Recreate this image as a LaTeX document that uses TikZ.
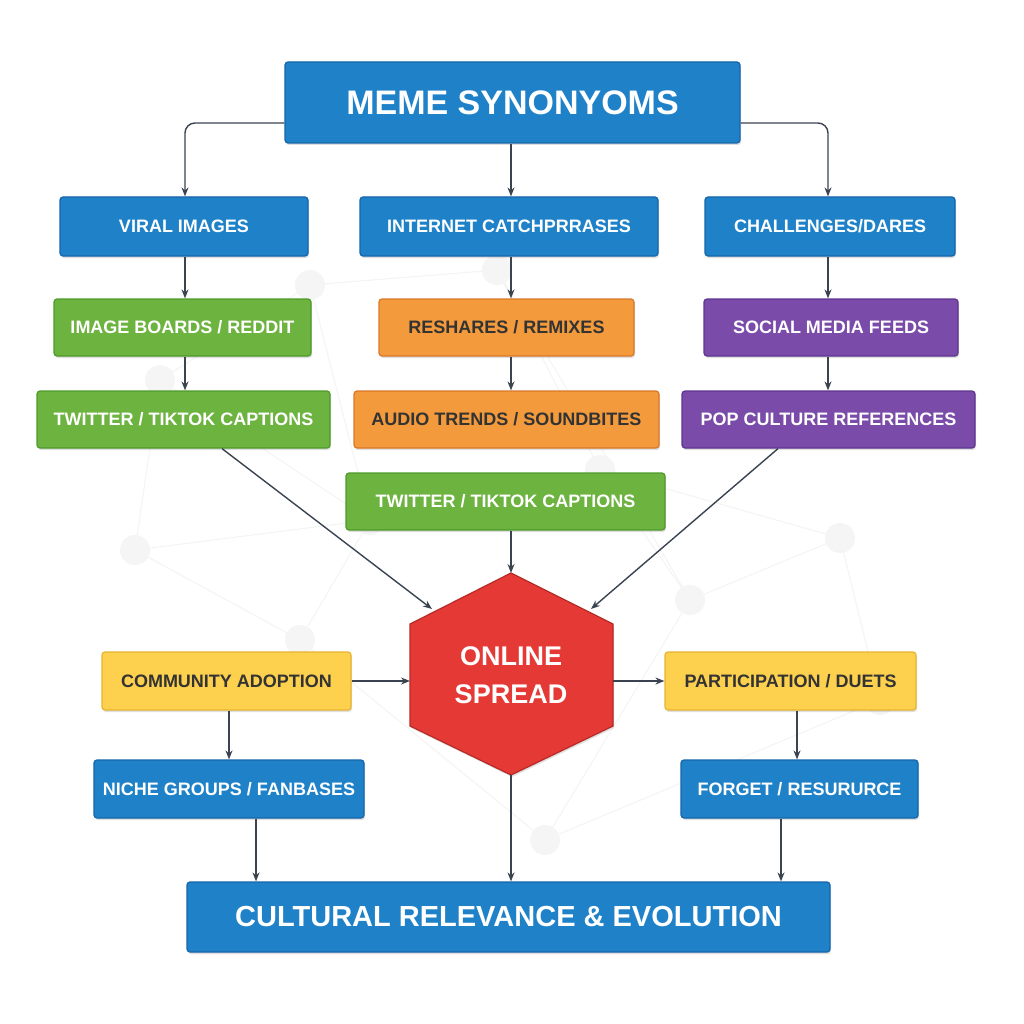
\documentclass[tikz,border=0pt]{standalone}
\usepackage{fontspec}
\setmainfont{Liberation Sans}
\usetikzlibrary{arrows.meta,shadows}
\definecolor{bl}{HTML}{1F82C9}\definecolor{blb}{HTML}{1565A8}
\definecolor{gr}{HTML}{6DB33F}\definecolor{grb}{HTML}{4E9A2A}
\definecolor{og}{HTML}{F39A3C}\definecolor{ogb}{HTML}{D9782A}
\definecolor{pu}{HTML}{7A4BA8}\definecolor{pub}{HTML}{5E3590}
\definecolor{ye}{HTML}{FDD04E}\definecolor{yeb}{HTML}{E6B42E}
\definecolor{rd}{HTML}{E53935}\definecolor{rdb}{HTML}{B72A26}
\definecolor{ar}{HTML}{3A4450}\definecolor{tx}{HTML}{333333}
\begin{document}
\begin{tikzpicture}[x=1pt,y=-1pt,
 bx/.style={rounded corners=3pt,line width=1.2pt,drop shadow={shadow xshift=1pt,shadow yshift=-2pt,opacity=0.25}},
 lbl/.style={font=\bfseries\fontsize{18}{20}\selectfont},
 conn/.style={-{Stealth[length=9pt,width=7pt]},draw=ar,line width=1.4pt,rounded corners=10pt},
 bgl/.style={draw=gray!9,line width=1pt}]
\useasboundingbox (0,0) rectangle (1024,1024);
\fill[white] (0,0) rectangle (1024,1024);
% faint network
\foreach \a/\b in {310/285,497/270,690/345,135/550,840/538,545/840,370/520,690/600,300/640,880/700,600/470,160/380}
  \coordinate (n\a) at (\a,\b);
\draw[bgl] (n310)--(n497)--(n690)--(n840)--(n880)--(n545)--(n300)--(n135)--(n160)--(n310)--(n370)--(n600)--(n690)
 (n135)--(n370)--(n300) (n600)--(n840) (n545)--(n690) (n497)--(n600) (n160)--(n370);
\foreach \a in {310,497,690,135,840,545,370,600,300,880,160}
  \fill[gray!8] (n\a) circle (15);
\def\B#1#2#3#4#5#6#7#8#9{\node[bx,draw=#7,fill=#6,text=#8,lbl,inner sep=0pt,minimum width={(#3)-(#2)},minimum height={(#5)-(#4)}] (#1) at ({((#2)+(#3))/2},{((#4)+(#5))/2}) {#9};}
\B{t}{285}{740}{62}{143}{bl}{blb}{white}{\fontsize{34}{36}\selectfont MEME SYNONYOMS}
\B{v}{60}{308}{197}{256}{bl}{blb}{white}{VIRAL IMAGES}
\B{i}{360}{658}{197}{256}{bl}{blb}{white}{INTERNET CATCHPRRASES}
\B{c}{705}{955}{197}{256}{bl}{blb}{white}{CHALLENGES/DARES}
\B{ib}{54}{311}{299}{356}{gr}{grb}{white}{IMAGE BOARDS / REDDIT}
\B{rr}{379}{634}{299}{356}{og}{ogb}{tx}{RESHARES / REMIXES}
\B{sm}{704}{958}{299}{356}{pu}{pub}{white}{SOCIAL MEDIA FEEDS}
\B{tw}{37}{330}{391}{448}{gr}{grb}{white}{TWITTER / TIKTOK CAPTIONS}
\B{au}{354}{659}{391}{448}{og}{ogb}{tx}{AUDIO TRENDS / SOUNDBITES}
\B{pc}{682}{975}{391}{448}{pu}{pub}{white}{POP CULTURE REFERENCES}
\B{tw2}{346}{665}{473}{530}{gr}{grb}{white}{TWITTER / TIKTOK CAPTIONS}
\B{ca}{102}{351}{652}{710}{ye}{yeb}{tx}{COMMUNITY ADOPTION}
\B{pd}{665}{916}{652}{710}{ye}{yeb}{tx}{PARTICIPATION / DUETS}
\B{ng}{94}{364}{760}{818}{bl}{blb}{white}{NICHE GROUPS / FANBASES}
\B{fr}{681}{918}{760}{818}{bl}{blb}{white}{FORGET / RESURURCE}
\B{cr}{187}{830}{882}{952}{bl}{blb}{white}{\fontsize{29}{32}\selectfont CULTURAL RELEVANCE \& EVOLUTION}
% hexagon
\draw[fill=rd,draw=rdb,line width=1.2pt,drop shadow={shadow xshift=1pt,shadow yshift=-2pt,opacity=0.25}]
 (511,573)--(613,624)--(613,726)--(511,775)--(410,726)--(410,624)--cycle;
\node[text=white,font=\bfseries\fontsize{27}{38}\selectfont,align=center] (h) at (511,675) {ONLINE\\SPREAD};
\coordinate (hT) at (511,573); \coordinate (hB) at (511,775);
\coordinate (hL) at (410,681); \coordinate (hR) at (613,681);
\coordinate (hUL) at (432,609); \coordinate (hUR) at (591,609);
% connectors
\draw[conn] (t.west|-0,123) -| (v.north-|185,0);
\draw[conn] (t.east|-0,123) -| (c.north-|828,0);
\draw[conn] (t.south-|511,0) -- (i.north-|511,0);
\draw[conn] (v.south-|185,0) -- (ib.north-|185,0); \draw[conn] (ib.south-|185,0) -- (tw.north-|185,0);
\draw[conn] (i.south-|511,0) -- (rr.north-|511,0); \draw[conn] (rr.south-|511,0) -- (au.north-|511,0);
\draw[conn] (c.south-|828,0) -- (sm.north-|828,0); \draw[conn] (sm.south-|828,0) -- (pc.north-|828,0);
\draw[conn] (tw.south-|222,0) -- (hUL);
\draw[conn] (pc.south-|778,0) -- (hUR);
\draw[conn] (tw2.south-|511,0) -- (hT);
\draw[conn] (ca.east|-hL) -- (hL);
\draw[conn] (hR) -- (pd.west|-hR);
\draw[conn] (ca.south-|229,0) -- (ng.north-|229,0);
\draw[conn] (pd.south-|797,0) -- (fr.north-|797,0);
\draw[conn] (ng.south-|256,0) -- (cr.north-|256,0);
\draw[conn] (hB) -- (cr.north-|hB);
\draw[conn] (fr.south-|781,0) -- (cr.north-|781,0);
\end{tikzpicture}
\end{document}
